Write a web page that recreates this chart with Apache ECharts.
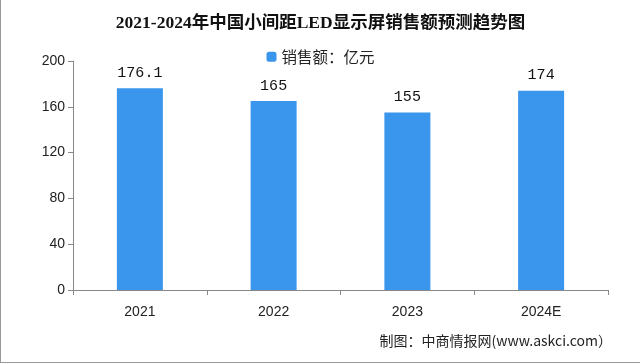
<!DOCTYPE html>
<html><head><meta charset="utf-8">
<script src="https://cdn.jsdelivr.net/npm/echarts@6/dist/echarts.min.js"></script>
<style>html,body{margin:0;padding:0;background:#fff}#c{width:640px;height:363px;box-sizing:border-box;border:1px solid #999;border-top:none;border-right:none}</style>
</head><body><div id="c"></div>
<script>
const categories = ['2021','2022','2023','2024E'];
const sales = [176.1, 165, 155, 174];
const valueLabels = ['176.1','165','155','174'];
const titleText = '2021-2024年中国小间距LED显示屏销售额预测趋势图';
const legendName = '销售额：亿元';
const sourceText = '制图：中商情报网(www.askci.com）';

const chart = echarts.init(document.getElementById('c'));
chart.setOption({
  backgroundColor: '#fff',
  animation: false,
  title: {text: titleText, left: 'center', top: 10,
    textStyle: {fontFamily: 'Liberation Serif, Noto Sans CJK SC', fontWeight: 'bold', fontSize: 17.5, color: '#111'}},
  legend: {data: [legendName], top: 44, left: 'center', itemWidth: 10, itemHeight: 10, itemGap: 6,
    textStyle: {fontFamily: 'Noto Sans CJK SC', fontSize: 15.5, color: '#222'}},
  grid: {left: 72, right: 32, top: 61, bottom: 72},
  xAxis: {type: 'category', data: categories,
    axisLine: {lineStyle: {color: '#888'}}, axisTick: {show: true, length: 5, lineStyle: {color: '#888'}},
    axisLabel: {color: '#222', fontSize: 14, margin: 15, fontFamily: 'Liberation Sans, Noto Sans CJK SC'}},
  yAxis: {type: 'value', min: 0, max: 200, interval: 40,
    axisLine: {show: true, lineStyle: {color: '#888'}}, axisTick: {show: true, length: 5, lineStyle: {color: '#888'}},
    splitLine: {show: false},
    axisLabel: {color: '#222', fontSize: 14, margin: 8, fontFamily: 'Liberation Sans'}},
  series: [{name: legendName, type: 'bar', data: sales, barWidth: 46,
    itemStyle: {color: '#3A96EC'},
    label: {show: true, position: 'top', distance: 8, color: '#111', fontSize: 15, fontFamily: 'Liberation Mono',
      formatter: p => valueLabels[p.dataIndex]}}],
  graphic: [{type: 'text', right: 28, bottom: 14,
    style: {text: sourceText, fill: '#222', fontSize: 14, fontFamily: 'Noto Sans CJK SC'}}]
});
</script></body></html>
